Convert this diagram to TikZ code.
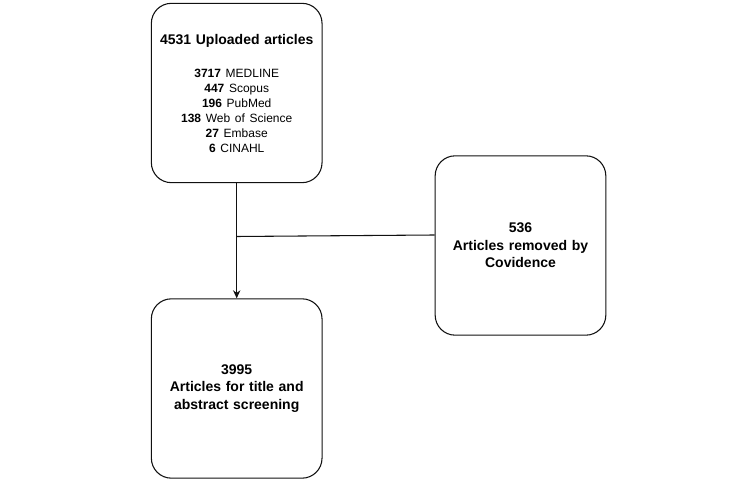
\documentclass[tikz,border=0pt]{standalone}
\usepackage{fontspec}
\setmainfont{Liberation Sans}
\usetikzlibrary{arrows.meta,positioning,calc}
\definecolor{ink}{HTML}{111111}
\newcommand{\srcline}[2]{{\bfseries #1} {\mdseries #2}}
\tikzset{box/.style={draw=ink,line width=0.8pt,rounded corners=15pt,align=center,text width=118pt,minimum width=128pt,minimum height=134.5pt,inner sep=0pt,font=\fontsize{10.5}{13}\selectfont\bfseries}, flow/.style={-{Stealth[length=6pt,width=5.5pt]},line width=0.8pt,draw=ink}, link/.style={line width=0.8pt,draw=ink}}

\begin{document}
\begin{tikzpicture}[x=0.75pt,y=-0.75pt]
\useasboundingbox (0,0) rectangle (733,484);
\node[box] (upload) at (236.7,93) {4531 Uploaded articles\\[13.5pt]
{\fontsize{9}{11.25}\selectfont
\srcline{3717}{MEDLINE}\\
\srcline{447}{Scopus}\\
\srcline{196}{PubMed}\\
\srcline{138}{Web of Science}\\
\srcline{27}{Embase}\\
\srcline{6}{CINAHL}\par}};
\node[box] (removed) at (520.5,245.5) {536\\ Articles removed by\\ Covidence};
\node[box] (screen) at (236.7,388.5) {3995\\ Articles for title and\\ abstract screening};
\coordinate (join) at (236.7,236.5);
\draw[flow] (upload.south)--(screen.north);
\draw[link] (removed.west |- 0,235)--(join);
\end{tikzpicture}
\end{document}
